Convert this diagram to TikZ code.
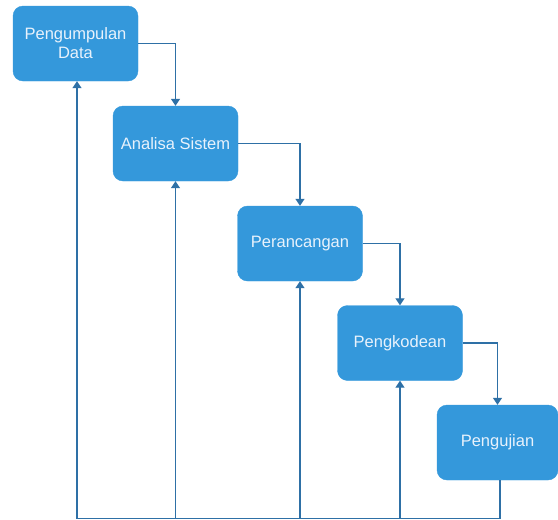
\documentclass[tikz,border=0pt]{standalone}
\usepackage{fontspec}
\setmainfont{Liberation Sans}
\usetikzlibrary{arrows.meta}
\definecolor{boxfill}{RGB}{52,152,219}
\definecolor{boxtext}{RGB}{232,242,252}
\definecolor{linec}{RGB}{46,112,166}
\begin{document}
\begin{tikzpicture}[x=1pt,y=-1pt,
  stage/.style={draw=boxfill,fill=boxfill,rounded corners=10pt,minimum width=125pt,minimum height=75pt,
    text=boxtext,align=center,inner sep=0pt,font=\fontsize{16.5}{19}\selectfont},
  conn/.style={draw=linec,line width=1.2pt},
  arr/.style={conn,-{Triangle[width=9pt,length=7pt]}}]
\useasboundingbox (0,0) rectangle (558,520);
\node[stage] (a) at (75.5,43.5) {Pengumpulan\\Data};
\node[stage] (b) at (175.5,143.5) {Analisa Sistem};
\node[stage] (c) at (300,243.5) {Perancangan};
\node[stage] (d) at (400,343) {Pengkodean};
\node[stage,minimum width=121pt] (e) at (497.5,442.5) {Pengujian};
\coordinate (bl) at (77,518.5);
\coordinate (br) at (500,518.5);
\draw[arr] (a.east) -| (b.north);
\draw[arr] (b.east) -| (c.north);
\draw[arr] (c.east) -| (d.north);
\draw[arr] (d.east) -| (e.north);
\draw[conn] (e.south -| br) -- (br) -- (bl);
\draw[arr] (bl) -- (bl |- a.south);
\draw[arr] (b.south |- bl) -- (b.south);
\draw[arr] (c.south |- bl) -- (c.south);
\draw[arr] (d.south |- bl) -- (d.south);
\end{tikzpicture}
\end{document}
